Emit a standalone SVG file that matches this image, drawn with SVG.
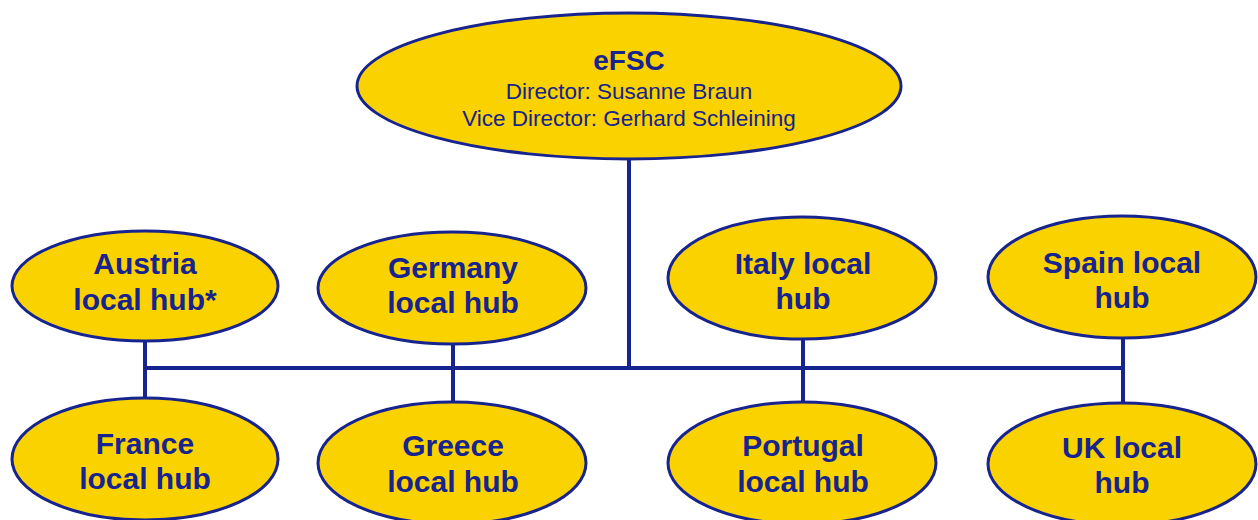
<svg xmlns="http://www.w3.org/2000/svg" width="1258" height="520" viewBox="0 0 1258 520">
<style>
.n{fill:#F9D200;stroke:#17238E;stroke-width:3}
.t{font-family:"Liberation Sans",Arial,sans-serif;font-weight:bold;font-size:30px;fill:#17238E;text-anchor:middle}
.s{font-family:"Liberation Sans",Arial,sans-serif;font-size:22.5px;fill:#17238E;text-anchor:middle}
.h{font-family:"Liberation Sans",Arial,sans-serif;font-weight:bold;font-size:28px;fill:#17238E;text-anchor:middle}
.c{stroke:#17238E;stroke-width:4;fill:none}
</style>
<rect width="1258" height="520" fill="#fff"/>
<g id="connectors">
<line class="c" x1="629" y1="158" x2="629" y2="368"/>
<line class="c" x1="145" y1="368" x2="1123" y2="368"/>
<line class="c" x1="145" y1="342" x2="145" y2="400"/>
<line class="c" x1="453" y1="344" x2="453" y2="404"/>
<line class="c" x1="803" y1="339" x2="803" y2="404"/>
<line class="c" x1="1123" y1="338" x2="1123" y2="404"/>
</g>
<g id="efsc">
<ellipse class="n" cx="629" cy="86" rx="272" ry="73"/>
<text class="h" x="629" y="70">eFSC</text>
<text class="s" x="629" y="99">Director: Susanne Braun</text>
<text class="s" x="629" y="126">Vice Director: Gerhard Schleining</text>
</g>
<g id="austria">
<ellipse class="n" cx="145" cy="286" rx="133" ry="55"/>
<text class="t" x="145" y="274">Austria</text>
<text class="t" x="145" y="310">local hub*</text>
</g>
<g id="germany">
<ellipse class="n" cx="452" cy="288" rx="134" ry="56"/>
<text class="t" x="453" y="278">Germany</text>
<text class="t" x="453" y="313">local hub</text>
</g>
<g id="italy">
<ellipse class="n" cx="802" cy="278" rx="134" ry="61"/>
<text class="t" x="803" y="274">Italy local</text>
<text class="t" x="803" y="309">hub</text>
</g>
<g id="spain">
<ellipse class="n" cx="1122" cy="277" rx="134" ry="61"/>
<text class="t" x="1122" y="273">Spain local</text>
<text class="t" x="1122" y="308">hub</text>
</g>
<g id="france">
<ellipse class="n" cx="145" cy="459" rx="133" ry="61"/>
<text class="t" x="145" y="454">France</text>
<text class="t" x="145" y="489">local hub</text>
</g>
<g id="greece">
<ellipse class="n" cx="452" cy="463" rx="134" ry="61"/>
<text class="t" x="453" y="456">Greece</text>
<text class="t" x="453" y="492">local hub</text>
</g>
<g id="portugal">
<ellipse class="n" cx="802" cy="463" rx="134" ry="61"/>
<text class="t" x="803" y="456">Portugal</text>
<text class="t" x="803" y="492">local hub</text>
</g>
<g id="uk">
<ellipse class="n" cx="1122" cy="464" rx="134" ry="61"/>
<text class="t" x="1122" y="458">UK local</text>
<text class="t" x="1122" y="493">hub</text>
</g>
</svg>
